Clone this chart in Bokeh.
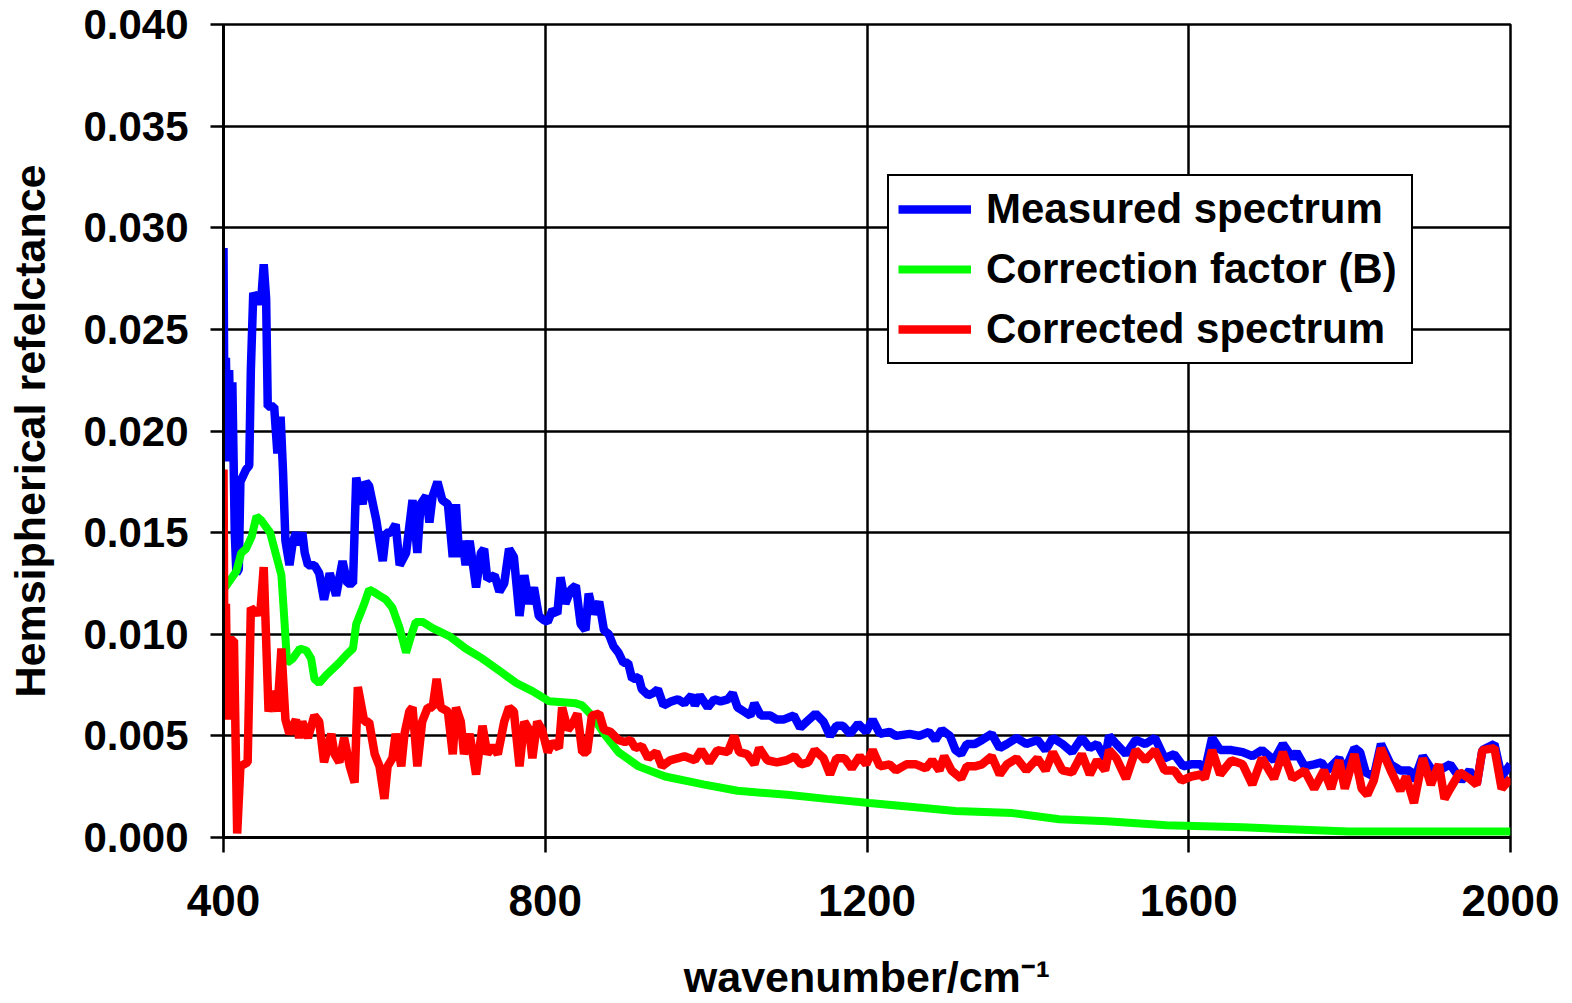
from bokeh.plotting import figure
from bokeh.models import FixedTicker, NumeralTickFormatter, Legend, LegendItem, Range1d
from bokeh.embed import file_html
from bokeh.resources import INLINE

# ---------------- data ----------------
x_measured = [400, 401, 403, 405, 407, 409, 411, 414, 416, 419, 421, 428, 432, 434, 437, 443, 447, 450, 453, 455,
              463, 467, 471, 474, 477, 482, 486, 490, 494, 498, 501, 505, 513, 519, 525, 532, 536, 540, 548, 554,
              561, 565, 569, 573, 577, 581, 590, 598, 602, 608, 614, 619, 627, 635, 641, 645, 652, 656, 660, 666,
              672, 679, 685, 689, 693, 697, 701, 706, 714, 720, 724, 728, 737, 743, 749, 755, 761, 768, 774, 780,
              786, 792, 798, 803, 809, 815, 819, 825, 832, 838, 844, 850, 854, 860, 867, 873, 879, 885, 891, 897,
              903, 908, 916, 920, 928, 934, 940, 947, 957, 965, 973, 982, 986, 992, 1002, 1010, 1018, 1027, 1033, 1039,
              1047, 1055, 1060, 1068, 1080, 1088, 1096, 1109, 1117, 1125, 1136, 1146, 1154, 1162, 1170, 1179, 1189, 1199, 1207, 1216,
              1228, 1236, 1253, 1265, 1277, 1285, 1293, 1303, 1310, 1317, 1324, 1334, 1343, 1355, 1365, 1374, 1386, 1398, 1412, 1422,
              1431, 1443, 1455, 1467, 1477, 1486, 1496, 1501, 1510, 1522, 1534, 1546, 1558, 1570, 1582, 1593, 1603, 1615, 1620, 1629,
              1639, 1653, 1667, 1679, 1691, 1706, 1717, 1729, 1734, 1744, 1756, 1765, 1772, 1787, 1794, 1806, 1813, 1820, 1830, 1839,
              1851, 1863, 1875, 1880, 1891, 1901, 1911, 1925, 1939, 1949, 1958, 1965, 1980, 1989, 2000]
y_measured = [0.0290, 0.0216, 0.0236, 0.0185, 0.0230, 0.0190, 0.0224, 0.0150, 0.0130, 0.0132, 0.0175, 0.0181, 0.0183, 0.0230, 0.0268, 0.0263, 0.0265, 0.0282, 0.0265, 0.0212,
              0.0212, 0.0189, 0.0207, 0.0180, 0.0146, 0.0134, 0.0145, 0.0150, 0.0144, 0.0150, 0.0140, 0.0134, 0.0134, 0.0130, 0.0117, 0.0130, 0.0125, 0.0119, 0.0136, 0.0125,
              0.0125, 0.0177, 0.0170, 0.0164, 0.0175, 0.0173, 0.0156, 0.0136, 0.0150, 0.0150, 0.0154, 0.0134, 0.0140, 0.0166, 0.0140, 0.0164, 0.0168, 0.0155, 0.0168, 0.0175,
              0.0166, 0.0164, 0.0138, 0.0164, 0.0138, 0.0146, 0.0134, 0.0146, 0.0123, 0.0140, 0.0142, 0.0127, 0.0129, 0.0121, 0.0125, 0.0142, 0.0138, 0.0109, 0.0129, 0.0115,
              0.0123, 0.0109, 0.0107, 0.0106, 0.0112, 0.0110, 0.0128, 0.0115, 0.0122, 0.0124, 0.0105, 0.0102, 0.0120, 0.0110, 0.0116, 0.0102, 0.0100, 0.0094, 0.0091, 0.0086,
              0.0086, 0.0078, 0.0079, 0.0073, 0.0070, 0.0071, 0.0073, 0.0065, 0.0067, 0.0068, 0.0066, 0.0070, 0.0065, 0.0070, 0.0064, 0.0068, 0.0067, 0.0068, 0.0071, 0.0064,
              0.0062, 0.0060, 0.0066, 0.0060, 0.0060, 0.0058, 0.0058, 0.0060, 0.0054, 0.0057, 0.0061, 0.0057, 0.0050, 0.0055, 0.0055, 0.0051, 0.0056, 0.0052, 0.0058, 0.0051,
              0.0052, 0.0050, 0.0051, 0.0050, 0.0052, 0.0048, 0.0053, 0.0050, 0.0043, 0.0041, 0.0046, 0.0046, 0.0048, 0.0051, 0.0044, 0.0046, 0.0049, 0.0046, 0.0048, 0.0043,
              0.0049, 0.0046, 0.0042, 0.0049, 0.0044, 0.0046, 0.0039, 0.0050, 0.0046, 0.0041, 0.0048, 0.0046, 0.0049, 0.0039, 0.0041, 0.0035, 0.0036, 0.0036, 0.0033, 0.0049,
              0.0043, 0.0043, 0.0042, 0.0040, 0.0043, 0.0038, 0.0046, 0.0039, 0.0042, 0.0035, 0.0036, 0.0037, 0.0033, 0.0039, 0.0033, 0.0044, 0.0042, 0.0032, 0.0030, 0.0046,
              0.0036, 0.0033, 0.0033, 0.0028, 0.0040, 0.0034, 0.0033, 0.0036, 0.0028, 0.0033, 0.0026, 0.0043, 0.0046, 0.0030, 0.0036]

x_factor = [402, 416, 422, 428, 435, 441, 447, 458, 466, 472, 476, 479, 486, 495, 503, 509, 513, 519, 528, 544,
            553, 561, 565, 569, 575, 581, 590, 602, 610, 619, 627, 633, 639, 648, 660, 681, 701, 722, 743, 764,
            784, 805, 838, 846, 858, 875, 891, 916, 949, 998, 1039, 1101, 1150, 1203, 1257, 1310, 1381, 1439, 1498, 1572,
            1667, 1799, 2000]
y_factor = [0.0123, 0.0131, 0.0140, 0.0142, 0.0148, 0.0158, 0.0156, 0.0150, 0.0138, 0.0129, 0.0105, 0.0086, 0.0088, 0.0093, 0.0092, 0.0088, 0.0078, 0.0076, 0.0080, 0.0086,
            0.0090, 0.0093, 0.0105, 0.0109, 0.0115, 0.0122, 0.0120, 0.0117, 0.0113, 0.0103, 0.0091, 0.0099, 0.0106, 0.0106, 0.0103, 0.0099, 0.0093, 0.0088, 0.0082, 0.0076,
            0.0072, 0.0067, 0.0066, 0.0065, 0.0060, 0.0050, 0.0042, 0.0035, 0.0030, 0.0026, 0.0023, 0.0021, 0.0019, 0.0017, 0.0015, 0.0013, 0.0012, 0.0009, 0.0008, 0.0006,
            0.0005, 0.0003, 0.0003]

x_corrected = [400, 401, 403, 405, 409, 413, 417, 421, 430, 434, 442, 446, 450, 456, 463, 467, 472, 477, 482, 490,
               494, 498, 505, 513, 519, 525, 534, 538, 544, 550, 557, 563, 567, 575, 581, 588, 594, 600, 604, 610,
               614, 621, 625, 631, 635, 641, 647, 654, 660, 665, 670, 679, 685, 689, 695, 699, 706, 714, 722, 728,
               734, 741, 749, 755, 761, 768, 774, 780, 784, 790, 796, 803, 809, 817, 821, 828, 834, 840, 846, 852,
               858, 867, 873, 881, 891, 899, 906, 912, 920, 928, 938, 945, 955, 965, 973, 986, 994, 1004, 1014, 1027,
               1035, 1041, 1051, 1060, 1066, 1076, 1088, 1100, 1110, 1118, 1127, 1135, 1146, 1154, 1162, 1172, 1181, 1191, 1199, 1207,
               1216, 1228, 1236, 1249, 1261, 1273, 1281, 1290, 1296, 1305, 1317, 1324, 1334, 1343, 1355, 1365, 1374, 1386, 1398, 1412,
               1422, 1431, 1443, 1455, 1467, 1477, 1486, 1496, 1501, 1510, 1522, 1534, 1546, 1558, 1570, 1582, 1591, 1603, 1615, 1620,
               1629, 1639, 1653, 1667, 1679, 1691, 1706, 1717, 1729, 1744, 1756, 1768, 1777, 1787, 1794, 1806, 1815, 1822, 1830, 1839,
               1851, 1863, 1870, 1880, 1891, 1901, 1911, 1918, 1925, 1937, 1949, 1958, 1965, 1980, 1989, 2000]
y_corrected = [0.0181, 0.0095, 0.0115, 0.0058, 0.0097, 0.0097, 0.0002, 0.0035, 0.0037, 0.0113, 0.0110, 0.0112, 0.0133, 0.0062, 0.0072, 0.0062, 0.0093, 0.0058, 0.0051, 0.0058,
               0.0049, 0.0057, 0.0049, 0.0060, 0.0057, 0.0037, 0.0051, 0.0041, 0.0037, 0.0049, 0.0035, 0.0027, 0.0074, 0.0057, 0.0057, 0.0041, 0.0035, 0.0019, 0.0035, 0.0039,
               0.0051, 0.0035, 0.0051, 0.0062, 0.0064, 0.0035, 0.0057, 0.0064, 0.0064, 0.0078, 0.0064, 0.0062, 0.0041, 0.0064, 0.0057, 0.0041, 0.0051, 0.0031, 0.0055, 0.0041,
               0.0045, 0.0041, 0.0057, 0.0064, 0.0062, 0.0035, 0.0057, 0.0053, 0.0039, 0.0057, 0.0053, 0.0042, 0.0047, 0.0044, 0.0064, 0.0053, 0.0056, 0.0061, 0.0042, 0.0042,
               0.0060, 0.0061, 0.0053, 0.0052, 0.0048, 0.0047, 0.0048, 0.0044, 0.0045, 0.0039, 0.0042, 0.0035, 0.0038, 0.0039, 0.0040, 0.0038, 0.0043, 0.0037, 0.0043, 0.0042,
               0.0050, 0.0042, 0.0041, 0.0036, 0.0044, 0.0038, 0.0037, 0.0038, 0.0040, 0.0036, 0.0037, 0.0043, 0.0039, 0.0031, 0.0039, 0.0039, 0.0034, 0.0040, 0.0036, 0.0043,
               0.0035, 0.0036, 0.0033, 0.0036, 0.0036, 0.0034, 0.0038, 0.0033, 0.0040, 0.0033, 0.0029, 0.0035, 0.0035, 0.0036, 0.0040, 0.0031, 0.0036, 0.0039, 0.0033, 0.0039,
               0.0033, 0.0042, 0.0033, 0.0032, 0.0041, 0.0031, 0.0038, 0.0033, 0.0043, 0.0039, 0.0029, 0.0043, 0.0038, 0.0043, 0.0033, 0.0033, 0.0028, 0.0030, 0.0031, 0.0029,
               0.0043, 0.0031, 0.0038, 0.0036, 0.0026, 0.0039, 0.0029, 0.0042, 0.0029, 0.0033, 0.0024, 0.0033, 0.0024, 0.0038, 0.0024, 0.0041, 0.0024, 0.0021, 0.0028, 0.0044,
               0.0033, 0.0023, 0.0030, 0.0017, 0.0039, 0.0026, 0.0036, 0.0019, 0.0024, 0.0032, 0.0029, 0.0026, 0.0043, 0.0044, 0.0024, 0.0029]

series_names = ["Measured spectrum", "Correction factor (B)", "Corrected spectrum"]
series_colors = ["#0000FF", "#00FF00", "#FF0000"]
x_ticks = [400, 800, 1200, 1600, 2000]
y_ticks = [0.000, 0.005, 0.010, 0.015, 0.020, 0.025, 0.030, 0.035, 0.040]
x_title = "wavenumber/cm\u207b\u00b9"
y_title = "Hemsipherical refelctance"

# ---------------- figure ----------------
W, H = 1572, 1003
p = figure(width=W, height=H, output_backend="svg", toolbar_location=None,
           x_range=Range1d(400, 2000), y_range=Range1d(0, 0.04))
p.min_border_left = 223
p.min_border_right = 62
p.min_border_top = 24
p.min_border_bottom = 166
p.background_fill_color = "white"
p.border_fill_color = "white"
p.outline_line_color = "black"
p.outline_line_width = 2.5

FONT = "Liberation Sans"

xa = p.xaxis[0]
xa.ticker = FixedTicker(ticks=x_ticks)
xa.major_label_text_font = FONT
xa.major_label_text_font_style = "bold"
xa.major_label_text_font_size = "44px"
xa.major_label_text_color = "black"
xa.major_label_standoff = 32
xa.axis_line_color = "black"
xa.axis_line_width = 3
xa.major_tick_line_color = "black"
xa.major_tick_line_width = 2.5
xa.major_tick_out = 15
xa.major_tick_in = 0
xa.minor_tick_line_color = None
xa.axis_label = x_title
xa.axis_label_text_font = FONT
xa.axis_label_text_font_style = "bold"
xa.axis_label_text_font_size = "43px"
xa.axis_label_text_color = "black"
xa.axis_label_standoff = 34

ya = p.yaxis[0]
ya.ticker = FixedTicker(ticks=y_ticks)
ya.formatter = NumeralTickFormatter(format="0.000")
ya.major_label_text_font = FONT
ya.major_label_text_font_style = "bold"
ya.major_label_text_font_size = "42px"
ya.major_label_text_color = "black"
ya.major_label_standoff = 22
ya.axis_line_color = "black"
ya.axis_line_width = 3
ya.major_tick_line_color = "black"
ya.major_tick_line_width = 2.5
ya.major_tick_out = 13
ya.major_tick_in = 0
ya.minor_tick_line_color = None
ya.axis_label = y_title
ya.axis_label_text_font = FONT
ya.axis_label_text_font_style = "bold"
ya.axis_label_text_font_size = "43px"
ya.axis_label_text_color = "black"
ya.axis_label_standoff = 26

p.xgrid.ticker = FixedTicker(ticks=x_ticks)
p.ygrid.ticker = FixedTicker(ticks=y_ticks)
for g in (p.xgrid[0], p.ygrid[0]):
    g.grid_line_color = "black"
    g.grid_line_width = 2.5
    g.grid_line_alpha = 1.0

r_meas = p.line(x_measured, y_measured, line_color=series_colors[0], line_width=8.5)
r_fact = p.line(x_factor, y_factor, line_color=series_colors[1], line_width=8)
r_corr = p.line(x_corrected, y_corrected, line_color=series_colors[2], line_width=8.5)

legend = Legend(items=[LegendItem(label=series_names[0], renderers=[r_meas]),
                       LegendItem(label=series_names[1], renderers=[r_fact]),
                       LegendItem(label=series_names[2], renderers=[r_corr])],
                location=(664, 473))
legend.label_text_font = FONT
legend.label_text_font_style = "bold"
legend.label_text_font_size = "42px"
legend.label_text_color = "black"
legend.border_line_color = "black"
legend.border_line_width = 2.5
legend.border_line_alpha = 1.0
legend.background_fill_color = "white"
legend.background_fill_alpha = 1.0
legend.padding = 9
legend.spacing = 12
legend.margin = 0
legend.glyph_width = 73
legend.glyph_height = 20
legend.label_standoff = 15
legend.label_width = 416
p.add_layout(legend, "center")

open("out.html", "w").write(file_html(p, INLINE))
